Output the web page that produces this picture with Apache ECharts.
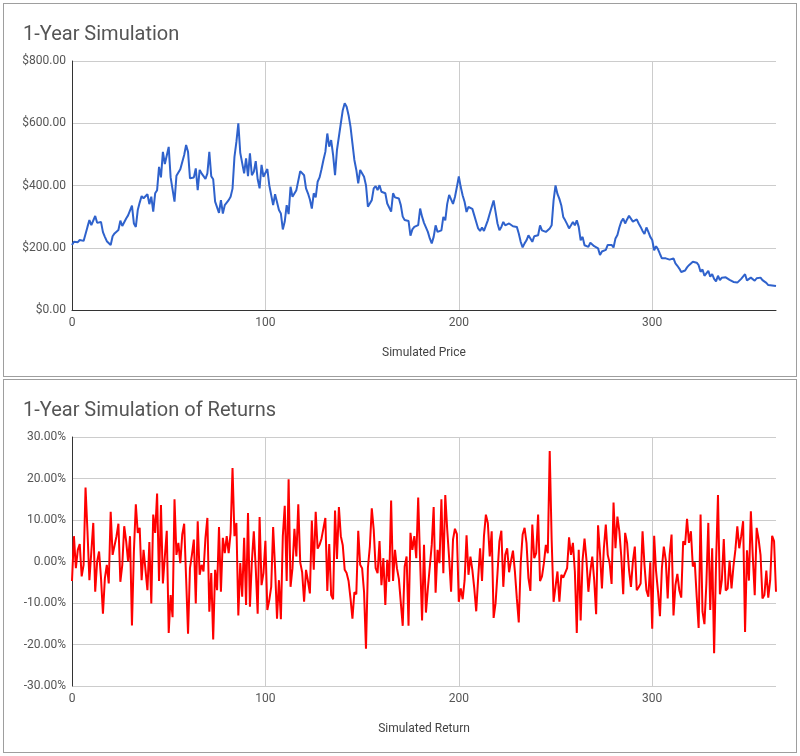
<!DOCTYPE html>
<html>
<head>
<meta charset="utf-8">
<script src="https://cdn.jsdelivr.net/npm/echarts@6/dist/echarts.min.js"></script>
<style>
    html, body { margin: 0; padding: 0; background: #fff; }
    .panel {
        position: absolute;
        left: 3px;
        width: 792px;
        height: 372px;
        border: 1px solid #9e9e9e;
        background: #fff;
    }
</style>
</head>
<body>
<div class="panel" id="price" style="top:3px"></div>
<div class="panel" id="returns" style="top:379px"></div>
<script>
// simulated price, one value per day
var prices = [
    209,219,222,218,225,230,222,228,267,289, 273,274,302,280,280,283,250,235,221,215,
    209,237,246,250,257,287,270,273,294,304, 308,335,278,267,321,345,366,359,364,372,
    340,364,316,375,385,460,426,508,469,469, 524,426,423,348,431,433,452,450,498,530,
    508,423,417,426,455,385,450,439,430,421, 439,508,430,420,348,342,312,353,310,337,
    334,353,364,390,492,540,600,505,500,439, 487,430,503,433,444,478,420,391,466,428,
    433,453,401,369,337,372,366,321,310,259, 284,337,308,396,364,358,385,387,446,446,
    433,391,375,355,326,375,362,412,426,452, 482,508,567,525,546,498,433,514,514,600,
    642,664,653,626,589,535,482,450,407,450, 444,428,401,332,326,353,391,398,385,401,
    380,385,375,342,337,316,375,362,366,358, 337,300,289,284,286,239,259,267,270,273,
    326,300,280,283,251,230,214,235,272,251, 256,256,299,288,341,370,376,341,363,395,
    429,395,368,347,315,331,331,325,304,283, 262,254,265,254,256,288,310,315,352,315,
    278,256,267,283,272,267,278,272,269,269, 267,246,219,201,214,224,240,230,219,237,
    240,240,272,256,254,251,256,262,272,352, 400,373,357,336,299,288,276,262,272,283,
    272,288,267,224,235,208,203,203,216,216, 205,203,198,177,188,184,193,209,214,209,
    201,230,241,265,284,294,278,291,303,303, 284,284,291,278,267,254,244,265,251,235,
    225,192,205,195,180,166,166,166,165,162, 158,166,150,142,133,122,121,127,137,144,
    150,155,155,152,144,123,130,110,112,126, 107,115,100,92,110,96,104,103,105,101,
    97,94,90,87,88,93,100,106,115,95, 96,104,100,94,102,106,104,96,91,87,
    80,75,79,83,77
];

// simulated daily return, in percent
var returns = [
    -4.7,6.1,-1.6,2.8,4.2,-3.6,-0.8,17.8,7.3,-4.5, 2.4,9.3,-7.3,0,2.4,-4,-12.6,-4,-0.8,-5.3,
    12,1.6,1.8,6.1,9.1,-4.9,-0.8,8.5,4.9,0, 6.1,-15.4,2.4,13.8,6.9,8.1,-4.5,2.8,3.1,-6.9,
    4.7,-10.1,11.3,6.9,16.4,-4.7,13.6,-5.3,1.2,7.4, -17.2,-8.1,-13.4,15,1.6,4.5,-0.4,6.5,9.1,-4,
    -17.4,-1.6,1.6,5.3,-10.1,9.7,-3.2,-0.8,-2.4,5.7, 10.5,-12.1,-2.8,-18.8,-2,-6.9,8.3,-7.3,5.7,2,
    6.1,2,6.9,22.5,6.1,9.3,-13,-0.4,-8.5,5.7, -10.5,11.7,-10.9,0,7.3,-1.6,-12.6,10.7,-5.7,-2.8,
    5,-11.7,-9.3,-6.1,8.3,-1.6,-13.8,-4.5,-13.9,6.1, 13.4,-4.7,19.8,-6.1,-1.6,7.9,1.2,13.8,-0.2,-2.6,
    -9.7,-2,-4.7,-7.7,9.9,-2,12,3.1,4,5.5, 5.3,10.5,-7.1,4.2,-8.1,-9.1,12.3,0.6,13.1,6.1,
    3.9,-2,-2.8,-4.7,-8.9,-13.8,-7.4,-7.9,7.4,-0.8, -1.6,-7.3,-21,-1.5,3.6,12.8,7.7,-1.6,-2.8,4.9,
    -5.7,0.8,-10.5,0.4,-4.9,14.7,-4.7,2.8,-1.6,-4.2, -4.5,-15.5,-1.2,1.2,-15.5,6.9,2.8,6.1,0.8,15.4,
    0,-14.2,4,-12.3,-6.5,-6.1,4,13.1,-7.5,2.8, -0.4,15,-2.8,16,7.7,0.8,-7.3,5.3,7.9,6.6,
    -9.7,-6.5,-9.1,-4.5,6.3,-3.2,1.2,-2,-6.5,-12, -4,3.2,-4.7,6.1,11.3,9.3,1.2,7.3,-13.6,-10.1,
    -2.8,4.9,7.4,-6.1,1.6,3.2,-2.6,0.2,2.6,-2.4, -8.9,-14.7,-0.4,6.5,8.1,4.5,-4,-7.1,8.9,0.8,
    2,11.3,-4.7,-3.6,-0.4,4,2,26.6,5.3,-9.7, -6.1,-2.4,-9.7,-3.2,-3.9,-4.2,-1.6,5.8,1.6,4.5,
    -2.4,-17.2,2.8,-14.2,0.4,5.5,0.4,-7.3,-2.4,1.2, -4.5,-12.7,8.7,2,-6.5,3.2,8.9,1.6,-0.4,-5.4,
    14.2,3.2,10.8,7.3,1.2,-7.9,6.9,4.5,-2,-6.1, 0,3.6,-6.9,-6.2,-5.3,7.3,-0.8,-6.9,-8.5,-0.2,
    -16.2,6.2,-2.4,-7.3,-13.2,-1.6,3.6,0.4,-8.9,1.6, 6.5,-13,-5.7,-3,-6.9,-8.7,4.9,4,10.3,4.5,
    7.3,-1.2,-0.2,-8.5,-16,11.3,-12.1,-15.1,-5.3,9.3, -11.7,3.2,-22.1,-0.4,16,-7.9,-4.5,5.4,-7,-6.5,
    0.2,-6.5,-1.2,2.8,8.5,3.2,6.1,9.7,-17,2.7, -4.6,12.1,1.2,-8.1,8.1,5.4,1.6,-8.9,-8.1,-2.2,
    -8.7,-4.5,6.2,4.9,-7.3
];

var days = [];
for (var i = 0; i < prices.length; i++) {
    days.push(String(i));
}

var titles = ['1-Year Simulation', '1-Year Simulation of Returns'];
var axisNames = ['Simulated Price', 'Simulated Return'];
var priceTicks = [0, 800, 200];   // min, max, step
var returnTicks = [-30, 30, 10];

var font = 'Roboto, "Noto Sans", sans-serif';
var grid = '#cccccc';
var dark = '#333333';

function baseOption(title, axisName, data, color, ticks, fmt, splitColors, xLine) {
    return {
        animation: false,
        textStyle: { fontFamily: font },
        title: {
            text: title,
            left: 14,
            top: 16,
            textStyle: { fontFamily: font, fontSize: 20, fontWeight: 'normal', color: '#555555' }
        },
        grid: { left: 68, right: 20, top: 57, bottom: 66 },
        xAxis: {
            type: 'category',
            data: days,
            boundaryGap: false,
            name: axisName,
            nameLocation: 'middle',
            nameGap: 37,
            nameTextStyle: { fontFamily: font, fontSize: 12, color: '#444444' },
            axisLine: { show: xLine, onZero: false, lineStyle: { color: dark, width: 1 } },
            axisTick: { show: false },
            axisLabel: { interval: 99, margin: 7, fontSize: 12, color: '#555555' },
            splitLine: { show: true, interval: 99, lineStyle: { color: grid, width: 1 } }
        },
        yAxis: {
            type: 'value',
            min: ticks[0],
            max: ticks[1],
            interval: ticks[2],
            axisLine: { show: true, lineStyle: { color: dark, width: 1 } },
            axisTick: { show: false },
            axisLabel: { formatter: fmt, margin: 6, fontSize: 12, color: '#555555' },
            splitLine: { show: true, lineStyle: { color: splitColors, width: 1 } }
        },
        series: [{
            type: 'line',
            data: data,
            showSymbol: false,
            lineStyle: { color: color, width: 2 },
            itemStyle: { color: color }
        }]
    };
}

var priceChart = echarts.init(document.getElementById('price'));
priceChart.setOption(baseOption(titles[0], axisNames[0], prices, '#2f62cc', priceTicks,
    function (v) { return '$' + v.toFixed(2); }, grid, true));

// the 0% line is drawn dark, the others light
var retColors = [];
for (var t = returnTicks[0]; t <= returnTicks[1]; t += returnTicks[2]) {
    retColors.push(t === 0 ? dark : grid);
}
var returnChart = echarts.init(document.getElementById('returns'));
returnChart.setOption(baseOption(titles[1], axisNames[1], returns, '#ff0000', returnTicks,
    function (v) { return v.toFixed(2) + '%'; }, retColors, false));
</script>
</body>
</html>
